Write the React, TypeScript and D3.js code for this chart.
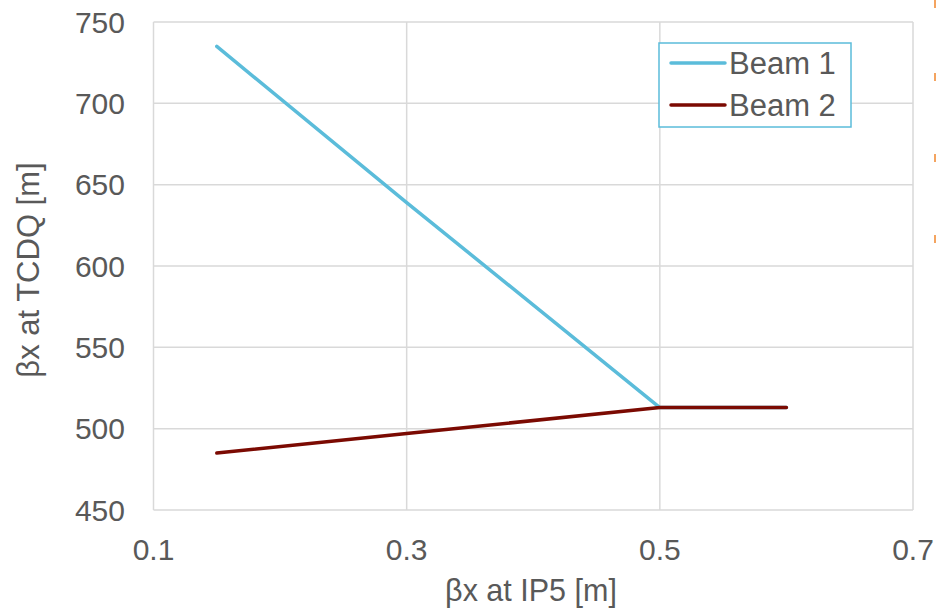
import React from "react";
import * as d3 from "d3";

const xTicks = [0.1, 0.3, 0.5, 0.7];
const yTicks = [450, 500, 550, 600, 650, 700, 750];
const beam1X = [0.15, 0.3, 0.5, 0.6];
const beam1Y = [735, 639, 513, 513];
const beam2X = [0.15, 0.3, 0.5, 0.6];
const beam2Y = [485, 497, 513, 513];
const seriesNames = ["Beam 1", "Beam 2"];
const seriesColors = ["#5BBCDA", "#7B0A02"];
const xTitle = "βx at IP5 [m]";
const yTitle = "βx at TCDQ [m]";

const W = 936, H = 610;
const left = 153.5, right = 913, top = 22, bottom = 510;

export default function App() {
  const x = d3.scaleLinear().domain([0.1, 0.7]).range([left, right]);
  const y = d3.scaleLinear().domain([450, 750]).range([bottom, top]);
  const line = d3.line<[number, number]>().x(d => x(d[0])).y(d => y(d[1]));
  const s1 = line(beam1X.map((v, i) => [v, beam1Y[i]]) as [number, number][]) || "";
  const s2 = line(beam2X.map((v, i) => [v, beam2Y[i]]) as [number, number][]) || "";
  const font = "'Liberation Sans', Arial, sans-serif";
  const txt = "#595959";
  const legX = 659, legY = 43, legW = 192, legH = 84;
  return (
    <svg width={W} height={H} style={{ position: "absolute", left: 0, top: 0 }} fontFamily={font}>
      <rect x={0} y={0} width={W} height={H} fill="#fff" />
      {yTicks.map(t => (
        <line key={"gy" + t} x1={left} x2={right} y1={y(t)} y2={y(t)} stroke="#D9D9D9" strokeWidth={1.5} />
      ))}
      {xTicks.map(t => (
        <line key={"gx" + t} x1={x(t)} x2={x(t)} y1={top} y2={bottom} stroke="#D9D9D9" strokeWidth={1.5} />
      ))}
      {yTicks.map(t => (
        <text key={"ty" + t} x={125} y={y(t)} dy="0.35em" textAnchor="end" fontSize={30} fill={txt}>{t}</text>
      ))}
      {xTicks.map(t => (
        <text key={"tx" + t} x={x(t)} y={549} dy="0.35em" textAnchor="middle" fontSize={30} fill={txt}>{t.toFixed(1)}</text>
      ))}
      <text x={531} y={590} dy="0.35em" textAnchor="middle" fontSize={30.5} fill={txt}>{xTitle}</text>
      <text transform={`translate(28,270) rotate(-90)`} dy="0.35em" textAnchor="middle" fontSize={31} fill={txt}>{yTitle}</text>
      <path d={s1} fill="none" stroke={seriesColors[0]} strokeWidth={3.5} strokeLinecap="round" strokeLinejoin="round" />
      <path d={s2} fill="none" stroke={seriesColors[1]} strokeWidth={3.5} strokeLinecap="round" strokeLinejoin="round" />
      <rect x={legX} y={legY} width={legW} height={legH} fill="#fff" stroke="#5BBCDA" strokeWidth={1.5} />
      {seriesNames.map((n, i) => (
        <g key={n}>
          <line x1={671} x2={725} y1={63 + i * 42} y2={63 + i * 42} stroke={seriesColors[i]} strokeWidth={3.5} strokeLinecap="round" />
          <text x={729} y={63 + i * 42} dy="0.35em" fontSize={31} fill={txt}>{n}</text>
        </g>
      ))}
      {[4, 77, 158, 239].map(v => (
        <rect key={"o" + v} x={934} y={v - 4} width={2} height={8} fill="#F4A460" />
      ))}
    </svg>
  );
}
